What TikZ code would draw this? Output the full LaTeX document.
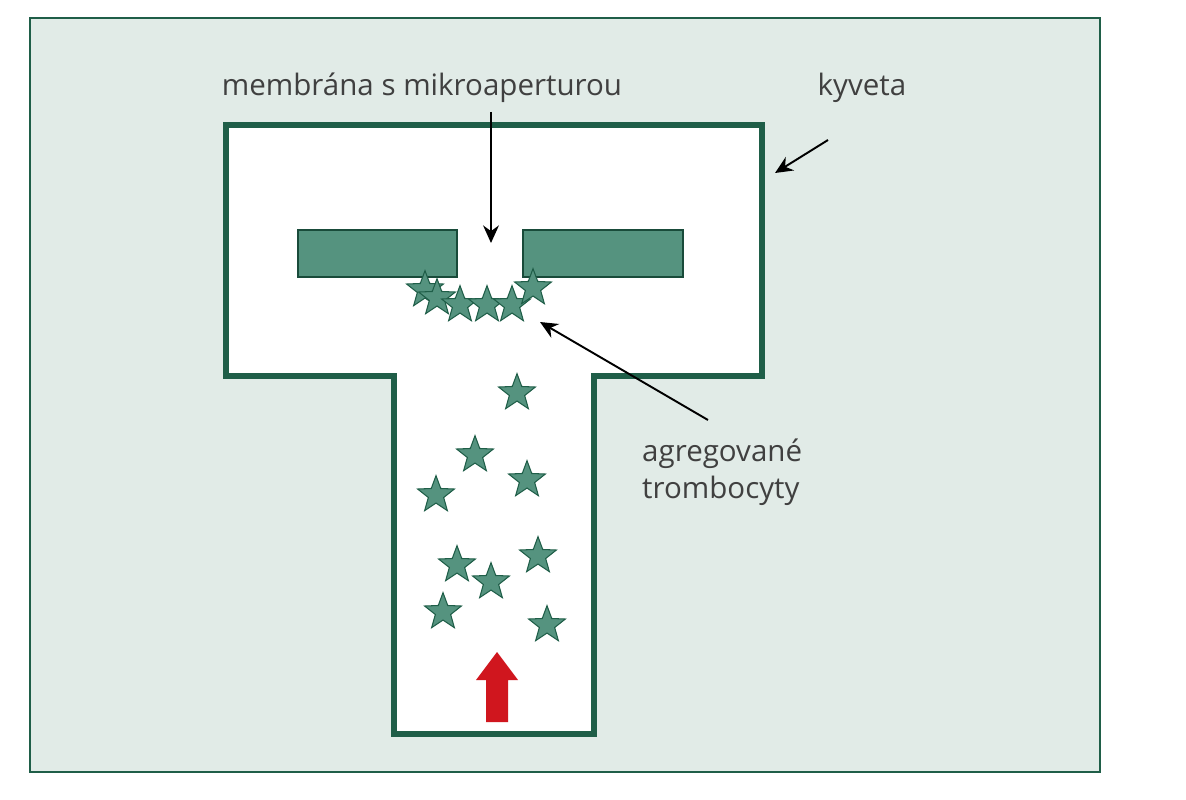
\documentclass[tikz,border=0pt]{standalone}
\usepackage{fontspec}
\setmainfont{Open Sans}
\usetikzlibrary{shapes.geometric,arrows.meta}
\definecolor{bgcol}{HTML}{E1EBE7}
\definecolor{wallcol}{HTML}{1F5E48}
\definecolor{membcol}{HTML}{55937F}
\definecolor{flowcol}{HTML}{D0161E}
\tikzset{
  wall/.style={draw=wallcol,line width=3pt,fill=white},
  membrane/.style={draw=wallcol!80!black,line width=0.8pt,fill=membcol},
  platelet/.style={star,star points=5,star point ratio=2.4,draw=wallcol,fill=membcol,line width=0.6pt,minimum size=22pt,inner sep=0pt},
  label/.style={font=\fontsize{16.8}{21}\selectfont,text=black!75},
  pointer/.style={-{Stealth[length=10pt,width=9pt]},line width=1.1pt}
}
\begin{document}
\begin{tikzpicture}[x=0.02cm,y=-0.02cm]
  \useasboundingbox (0,0) rectangle (1186,800);
  \draw[draw=wallcol,line width=0.8pt,fill=bgcol] (30,18) rectangle (1100,772);
  % cuvette
  \draw[wall] (226,125) -- (762,125) -- (762,376) -- (594,376) -- (594,734)
    -- (394,734) -- (394,376) -- (226,376) -- cycle;
  % membrane with aperture
  \node[membrane,minimum width=159*0.02cm,minimum height=47*0.02cm,inner sep=0pt] (ml) at (377.5,253.5) {};
  \node[membrane,minimum width=160*0.02cm,minimum height=47*0.02cm,inner sep=0pt] (mr) at (603,253.5) {};
  \coordinate (aperture) at (491,243);
  % platelets
  \foreach \x/\y [count=\i] in {425/290,437/298,460/305,487/305,512/305,533/288,
      517/393,475/455,527/480,436/495,457/565,538/556,491/582,443/612,547/625}
    \node[platelet] (p\i) at (\x,\y) {};
  % flow
  \fill[flowcol] (486,722) -- (486,680) -- (476,680) -- (497,652) -- (518,680)
    -- (508,680) -- (508,722) -- cycle;
  % labels
  \node[label] (tmemb) at (422,88) {membrána s mikroaperturou};
  \node[label] (tkyv) at (862,88) {kyveta};
  \node[label,align=left,anchor=west] (tagr) at (636,472) {agregované\\trombocyty};
  \coordinate (kyvend) at (775,173);
  \coordinate (agrend) at (540,322);
  \draw[pointer] (491,112) -- (aperture);
  \draw[pointer] (828,140) -- (kyvend);
  \draw[pointer] (708,420) -- (agrend);
\end{tikzpicture}
\end{document}
